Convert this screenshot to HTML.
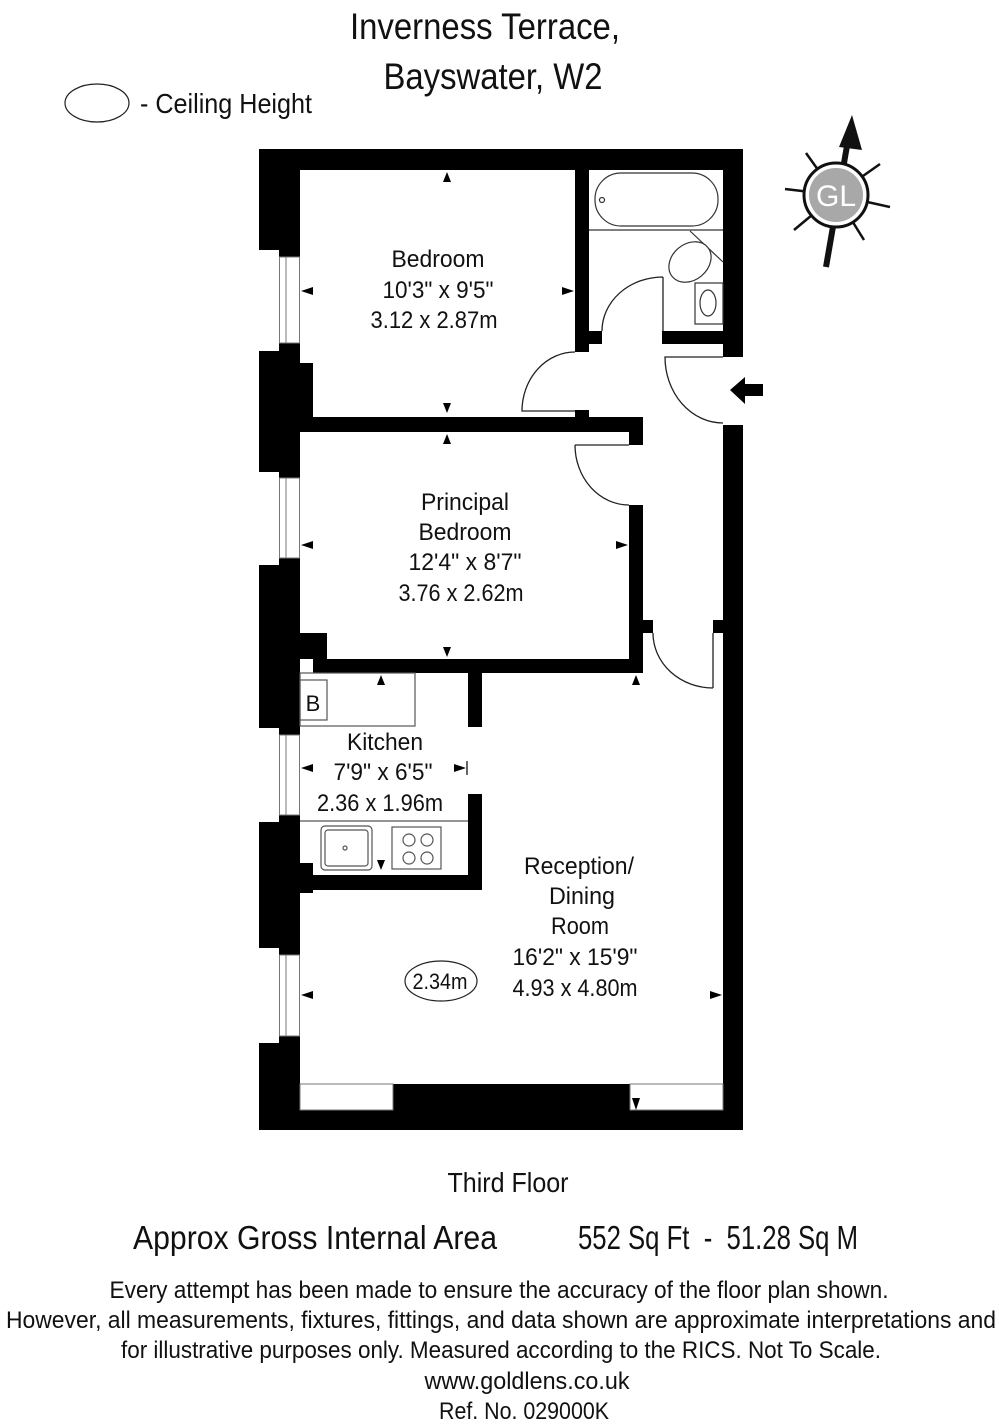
<!DOCTYPE html>
<html><head><meta charset="utf-8"><style>
html,body{margin:0;padding:0;background:#fff;}
svg{display:block;}
text{font-family:"Liberation Sans Narrow","Liberation Sans",sans-serif;fill:#111;}
</style></head><body>
<svg width="999" height="1424" viewBox="0 0 999 1424" xmlns="http://www.w3.org/2000/svg">
<rect width="999" height="1424" fill="#fff"/>
<!-- Title -->
<text x="485" y="39" font-size="37" text-anchor="middle" textLength="270" lengthAdjust="spacingAndGlyphs">Inverness Terrace,</text>
<text x="493" y="89" font-size="37" text-anchor="middle" textLength="219" lengthAdjust="spacingAndGlyphs">Bayswater, W2</text>
<ellipse cx="97" cy="103" rx="32" ry="19" fill="none" stroke="#222" stroke-width="1.2"/>
<text x="140" y="113" font-size="28" textLength="172" lengthAdjust="spacingAndGlyphs">- Ceiling Height</text>

<!-- Compass -->
<g stroke="#111" stroke-width="2.5">
<line x1="836" y1="195" x2="806" y2="153"/><line x1="836" y1="195" x2="880" y2="164"/>
<line x1="836" y1="195" x2="785" y2="189"/><line x1="836" y1="195" x2="890" y2="207"/>
<line x1="836" y1="195" x2="794" y2="230"/><line x1="836" y1="195" x2="864" y2="240"/>
</g>
<line x1="826" y1="267" x2="848" y2="140" stroke="#111" stroke-width="6"/>
<polygon points="852,115 839,147 862,150" fill="#111"/>
<circle cx="836" cy="195" r="32" fill="#fff" stroke="#111" stroke-width="3"/>
<circle cx="836" cy="195" r="27" fill="#a8a8a8"/>
<text x="836" y="206" font-size="30" text-anchor="middle" style="fill:#fff" font-family="Liberation Sans">GL</text>

<!-- Walls -->
<g fill="#000">
<rect x="259" y="149" width="484" height="21"/>
<rect x="279" y="149" width="21" height="108"/>
<rect x="279" y="343" width="21" height="135"/>
<rect x="279" y="558" width="21" height="177"/>
<rect x="279" y="815" width="21" height="140"/>
<rect x="279" y="1036" width="21" height="94"/>
<rect x="259" y="149" width="21" height="101"/>
<rect x="259" y="351" width="21" height="121"/>
<rect x="259" y="565" width="21" height="163"/>
<rect x="259" y="822" width="21" height="126"/>
<rect x="259" y="1043" width="21" height="87"/>
<rect x="299" y="363" width="14" height="54"/>
<rect x="299" y="633" width="28" height="26"/>
<rect x="299" y="863" width="14" height="30"/>
<rect x="299" y="417" width="344" height="15"/>
<rect x="629" y="417" width="14" height="28"/>
<rect x="575" y="410" width="14" height="8"/>
<rect x="575" y="169" width="14" height="183"/>
<rect x="589" y="331" width="13" height="13"/>
<rect x="662" y="331" width="62" height="13"/>
<rect x="723" y="149" width="20" height="208"/>
<rect x="723" y="425" width="20" height="705"/>
<rect x="713" y="620" width="11" height="13"/>
<rect x="629" y="505" width="14" height="168"/>
<rect x="642" y="620" width="11" height="13"/>
<rect x="313" y="659" width="330" height="14"/>
<rect x="468" y="672" width="14" height="55"/>
<rect x="468" y="794" width="14" height="96"/>
<rect x="313" y="875" width="169" height="15"/>
<rect x="259" y="1110" width="484" height="20"/>
<rect x="393" y="1084" width="237" height="30"/>
</g>
<!-- windows -->
<g fill="none" stroke="#777" stroke-width="1">
<rect x="279.5" y="257" width="20" height="86"/><line x1="286" y1="257" x2="286" y2="343"/>
<rect x="279.5" y="478" width="20" height="80"/><line x1="286" y1="478" x2="286" y2="558"/>
<rect x="279.5" y="735" width="20" height="80"/><line x1="286" y1="735" x2="286" y2="815"/>
<rect x="279.5" y="955" width="20" height="81"/><line x1="286" y1="955" x2="286" y2="1036"/>
<rect x="300" y="1084" width="93" height="26"/>
<rect x="630" y="1084" width="93" height="26"/>
</g>
<!-- doors -->
<g fill="none" stroke="#222" stroke-width="1.3">
<path d="M575,352 A53,59 0 0 0 522,411 L575,411"/>
<path d="M663,277 L663,331 M663,277 A61,54 0 0 0 602,331"/>
<path d="M723,357 L665,357 A58,66 0 0 0 723,423"/>
<path d="M575,445 L629,445 M575,445 A54,60 0 0 0 629,505"/>
<path d="M713,633 L713,688 M653,633 A60,55 0 0 0 713,688"/>
</g>
<polygon points="730,390 745,377 745,384 763,384 763,396 745,396 745,404" fill="#000"/>

<!-- Bathroom fixtures -->
<g fill="none" stroke="#333" stroke-width="1.2">
<rect x="595" y="173" width="123" height="53" rx="26"/>
<circle cx="602" cy="200" r="2.5"/>
<line x1="589" y1="230" x2="723" y2="230"/>
<line x1="690" y1="231" x2="723" y2="262"/>
<ellipse cx="690" cy="262" rx="23" ry="18" transform="rotate(-40 690 262)" fill="#fff"/>
<rect x="695" y="283" width="28" height="41"/>
<ellipse cx="708" cy="303" rx="8" ry="13"/>
</g>
<!-- Kitchen fixtures -->
<g fill="none" stroke="#555" stroke-width="1.2">
<rect x="300" y="673" width="115" height="53"/>
<rect x="300" y="680" width="27" height="40"/>
<line x1="300" y1="821" x2="468" y2="821"/>
<rect x="321" y="826" width="51" height="44" rx="4"/>
<rect x="325" y="830" width="43" height="36" rx="3"/>
<circle cx="345" cy="848" r="2"/>
<rect x="392" y="827" width="49" height="42"/>
<circle cx="409" cy="840" r="6"/><circle cx="427" cy="840" r="6"/>
<circle cx="409" cy="858" r="6"/><circle cx="427" cy="858" r="6"/>
</g>
<text x="313" y="711" font-size="22" text-anchor="middle">B</text>

<g fill="#000">
<polygon points="447,172 443,182 451,182"/>
<polygon points="447,413 443,403 451,403"/>
<polygon points="447,434 443,444 451,444"/>
<polygon points="301,291 313,287 313,295"/>
<polygon points="574,291 562,287 562,295"/>
<polygon points="301,545 313,541 313,549"/>
<polygon points="628,545 616,541 616,549"/>
<polygon points="447,657 443,647 451,647"/>
<polygon points="381,675 377,685 385,685"/>
<polygon points="381,870 377,860 385,860"/>
<polygon points="301,768 313,764 313,772"/>
<polygon points="466,768 454,764 454,772"/>
<polygon points="636,675 632,685 640,685"/>
<polygon points="636,1110 632,1098 640,1098"/>
<polygon points="301,995 313,991 313,999"/>
<polygon points="722,995 710,991 710,999"/>
</g>
<line x1="467" y1="761" x2="467" y2="775" stroke="#000" stroke-width="1.2"/>

<g font-size="24" text-anchor="middle">
<text x="438" y="267" textLength="93" lengthAdjust="spacingAndGlyphs">Bedroom</text>
<text x="438" y="298" textLength="111" lengthAdjust="spacingAndGlyphs">10'3" x 9'5"</text>
<text x="434" y="328" textLength="127" lengthAdjust="spacingAndGlyphs">3.12 x 2.87m</text>
<text x="465" y="510" textLength="88" lengthAdjust="spacingAndGlyphs">Principal</text>
<text x="465" y="540" textLength="93" lengthAdjust="spacingAndGlyphs">Bedroom</text>
<text x="465" y="570" textLength="113" lengthAdjust="spacingAndGlyphs">12'4" x 8'7"</text>
<text x="461" y="601" textLength="125" lengthAdjust="spacingAndGlyphs">3.76 x 2.62m</text>
<text x="385" y="750" textLength="76" lengthAdjust="spacingAndGlyphs">Kitchen</text>
<text x="383" y="780" textLength="99" lengthAdjust="spacingAndGlyphs">7'9" x 6'5"</text>
<text x="380" y="811" textLength="126" lengthAdjust="spacingAndGlyphs">2.36 x 1.96m</text>
<text x="579" y="874" textLength="110" lengthAdjust="spacingAndGlyphs">Reception/</text>
<text x="582" y="904" textLength="66" lengthAdjust="spacingAndGlyphs">Dining</text>
<text x="580" y="934" textLength="58" lengthAdjust="spacingAndGlyphs">Room</text>
<text x="575" y="965" textLength="125" lengthAdjust="spacingAndGlyphs">16'2" x 15'9"</text>
<text x="575" y="996" textLength="125" lengthAdjust="spacingAndGlyphs">4.93 x 4.80m</text>
</g>
<ellipse cx="441" cy="981" rx="36" ry="20" fill="none" stroke="#222" stroke-width="1.2"/>
<text x="440" y="989" font-size="22" text-anchor="middle" textLength="55" lengthAdjust="spacingAndGlyphs">2.34m</text>

<text x="508" y="1192" font-size="28" text-anchor="middle" textLength="121" lengthAdjust="spacingAndGlyphs">Third Floor</text>
<text x="133" y="1249" font-size="33" textLength="364" lengthAdjust="spacingAndGlyphs">Approx Gross Internal Area</text>
<text x="578" y="1249" font-size="33" textLength="280" lengthAdjust="spacingAndGlyphs" xml:space="preserve">552 Sq Ft  -  51.28 Sq M</text>
<g font-size="24" text-anchor="middle">
<text x="499" y="1298" textLength="779" lengthAdjust="spacingAndGlyphs">Every attempt has been made to ensure the accuracy of the floor plan shown.</text>
<text x="501" y="1328" textLength="990" lengthAdjust="spacingAndGlyphs">However, all measurements, fixtures, fittings, and data shown are approximate interpretations and</text>
<text x="501" y="1358" textLength="760" lengthAdjust="spacingAndGlyphs">for illustrative purposes only. Measured according to the RICS. Not To Scale.</text>
<text x="527" y="1389" textLength="205" lengthAdjust="spacingAndGlyphs">www.goldlens.co.uk</text>
<text x="524" y="1419" textLength="170" lengthAdjust="spacingAndGlyphs">Ref. No. 029000K</text>
</g>
</svg>
</body></html>
